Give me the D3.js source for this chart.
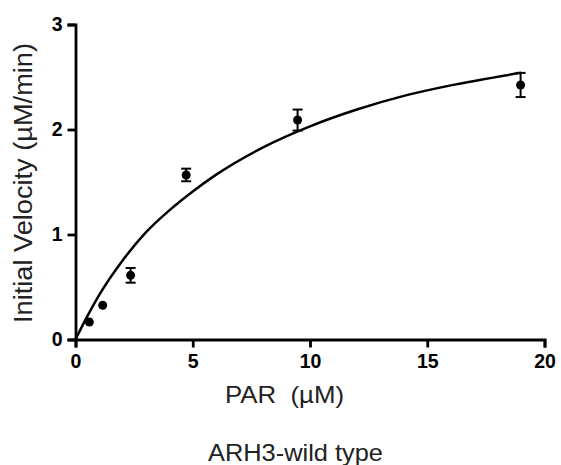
<!DOCTYPE html>
<html>
<head>
<meta charset="utf-8">
<script src="https://cdn.jsdelivr.net/npm/d3@7"></script>
<style>
  body { margin: 0; background: #fff; }
  svg { font-family: "Liberation Sans", Arial, sans-serif; }
</style>
</head>
<body>
<div id="chart"></div>
<script>
// measured points (PAR uM, velocity uM/min, error)
const parConc = [0.59, 1.16, 2.35, 4.72, 9.47, 18.98];
const velocity = [0.167, 0.326, 0.611, 1.567, 2.09, 2.424];
const velErr = [0.0, 0.0, 0.07, 0.06, 0.1, 0.115];

// fitted curve
const fitX = [0, 0.5, 1, 2, 3, 4, 5, 6, 8, 10, 12, 14, 16, 19];
const fitY = [0, 0.22, 0.42, 0.75, 1.02, 1.23, 1.41, 1.57, 1.83, 2.03, 2.19, 2.32, 2.42, 2.54];

const xTicks = [0, 5, 10, 15, 20];
const yTicks = [0, 1, 2, 3];

const width = 561, height = 465;
const svg = d3.select("#chart").append("svg")
  .attr("width", width)
  .attr("height", height);

const x = d3.scaleLinear().domain([0, 20]).range([75.5, 544.5]);
const y = d3.scaleLinear().domain([0, 3]).range([339.5, 24.5]);

// axes
const xAxis = svg.append("g")
  .attr("transform", "translate(0," + y(0) + ")")
  .call(d3.axisBottom(x).tickValues(xTicks).tickFormat(d3.format("d")).tickSize(8).tickPadding(7));
const yAxis = svg.append("g")
  .attr("transform", "translate(" + x(0) + ",0)")
  .call(d3.axisLeft(y).tickValues(yTicks).tickFormat(d3.format("d")).tickSize(8).tickPadding(5));

[xAxis, yAxis].forEach(function(a) {
  a.select(".domain").attr("stroke", "#000").attr("stroke-width", 2.8);
  a.selectAll(".tick line").attr("stroke", "#000").attr("stroke-width", 2.8);
  a.selectAll(".tick text")
    .attr("fill", "#000")
    .style("font-size", "19.5px")
    .style("font-weight", "bold")
    .style("font-family", "'Liberation Sans', Arial, sans-serif");
});

// fit curve
const line = d3.line()
  .x(d => x(d[0]))
  .y(d => y(d[1]))
  .curve(d3.curveMonotoneX);
svg.append("path")
  .datum(d3.zip(fitX, fitY))
  .attr("fill", "none")
  .attr("stroke", "#000")
  .attr("stroke-width", 2.5)
  .attr("d", line);

// error bars
const pts = d3.range(parConc.length).map(i => ({x: parConc[i], y: velocity[i], e: velErr[i]}));
const eb = svg.append("g").selectAll("g").data(pts.filter(d => d.e > 0)).enter().append("g");
eb.append("line")
  .attr("x1", d => x(d.x)).attr("x2", d => x(d.x))
  .attr("y1", d => y(d.y - d.e)).attr("y2", d => y(d.y + d.e))
  .attr("stroke", "#000").attr("stroke-width", 2);
[-1, 1].forEach(function(s) {
  eb.append("line")
    .attr("x1", d => x(d.x) - 5).attr("x2", d => x(d.x) + 5)
    .attr("y1", d => y(d.y + s * d.e)).attr("y2", d => y(d.y + s * d.e))
    .attr("stroke", "#000").attr("stroke-width", 2);
});

// markers
svg.append("g").selectAll("circle").data(pts).enter().append("circle")
  .attr("cx", d => x(d.x))
  .attr("cy", d => y(d.y))
  .attr("r", 4.5)
  .attr("fill", "#000");

// labels
svg.append("text")
  .attr("x", 284.5).attr("y", 403)
  .attr("text-anchor", "middle")
  .attr("fill", "#222")
  .attr("xml:space", "preserve")
  .attr("textLength", 119)
  .attr("lengthAdjust", "spacingAndGlyphs")
  .style("font-size", "24px")
  .style("white-space", "pre")
  .text("PAR  (\u00b5M)");

svg.append("text")
  .attr("transform", "translate(31.5,183) rotate(-90)")
  .attr("text-anchor", "middle")
  .attr("fill", "#222")
  .attr("textLength", 280)
  .attr("lengthAdjust", "spacingAndGlyphs")
  .style("font-size", "25px")
  .text("Initial Velocity (\u00b5M/min)");

svg.append("text")
  .attr("x", 295.5).attr("y", 461)
  .attr("text-anchor", "middle")
  .attr("fill", "#222")
  .attr("textLength", 175)
  .attr("lengthAdjust", "spacingAndGlyphs")
  .style("font-size", "24.5px")
  .text("ARH3-wild type");
</script>
</body>
</html>
